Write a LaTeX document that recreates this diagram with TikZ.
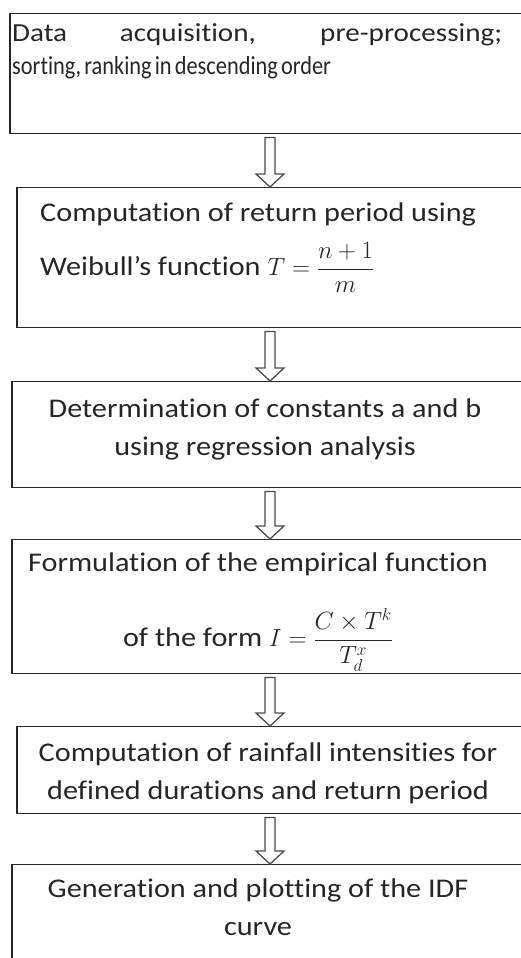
\documentclass[tikz,border=0pt]{standalone}
\usepackage{amsmath}
\usepackage{fontspec}
\setmainfont{Carlito}[FakeStretch=1.12, Ligatures=NoCommon]
\newfontfamily\narrowfont{Carlito}[FakeStretch=0.86, Ligatures=NoCommon]
\usepackage{tikz}
\usetikzlibrary{calc}
\newcommand{\hollowdown}[2]{%
  \draw[hollow] ($(#1.south)+(-5,-3)$) -- ($(#2.north)+(-5,13)$) -- ($(#2.north)+(-14,13)$)
    -- (#2.north) -- ($(#2.north)+(14,13)$) -- ($(#2.north)+(5,13)$) -- ($(#1.south)+(5,-3)$) -- cycle;}

\begin{document}
\begin{tikzpicture}[
    x=1pt, y=1pt,
    stage/.style={draw=black!85, line width=1.4pt, rectangle, inner sep=0pt, anchor=north},
    words/.style={font=\fontsize{27}{38}\selectfont, text=black!85, inner sep=0pt},
    hollow/.style={draw=black!70, line width=1.3pt, fill=white}
  ]
    \useasboundingbox (0,0) rectangle (521,-958);
    \clip (0,0) rectangle (521,-958);
    \node[stage, minimum width=520, minimum height=120] (b1) at (270,-13) {};
    \node[stage, minimum width=506, minimum height=140] (b2) at (270,-187) {};
    \node[stage, minimum width=516, minimum height=106] (b3) at (270,-381) {};
    \node[stage, minimum width=516, minimum height=134] (b4) at (270,-539) {};
    \node[stage, minimum width=506, minimum height=87] (b5) at (270,-726) {};
    \node[stage, minimum width=516, minimum height=120] (b6) at (270,-864) {};
    \node[words, font=\fontsize{26}{33}\selectfont, anchor=north west, align=left] (t1) at (12,-23)
      {\makebox[490pt][s]{Data acquisition, pre-processing;}\\
       {\narrowfont\spaceskip=0.12em sorting, ranking in descending order}};
    \node[words, anchor=north west, align=left] (t2) at (40,-202.5)
      {Computation of return period using\\[16pt] Weibull's function $T=\dfrac{n+1}{m}$};
    \node[words, anchor=north, align=center] (t3) at (265,-398.5)
      {Determination of constants a and b\\ using regression analysis};
    \node[words, anchor=north, align=center] (t4) at (258,-552.5)
      {Formulation of the empirical function\\[32pt] of the form $I=\dfrac{C\times T^k}{T_d^x}$};
    \node[words, anchor=north, align=center] (t5) at (268,-742.5)
      {Computation of rainfall intensities for\\ defined durations and return period};
    \node[words, anchor=north, align=center] (t6) at (258,-878.5)
      {Generation and plotting of the IDF\\ curve};
    \hollowdown{b1}{b2}
    \hollowdown{b2}{b3}
    \hollowdown{b3}{b4}
    \hollowdown{b4}{b5}
    \hollowdown{b5}{b6}
\end{tikzpicture}
\end{document}
